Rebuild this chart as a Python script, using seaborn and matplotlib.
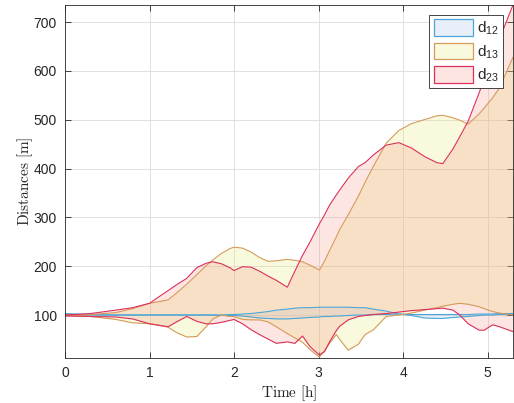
import numpy as np
import seaborn as sns
import matplotlib
matplotlib.use("Agg")
from matplotlib import pyplot as plt
from matplotlib.patches import Patch
from matplotlib.colors import to_rgba

# time [h]
t = [0.0, 0.3, 0.6, 0.8, 1.0, 1.1, 1.22, 1.32, 1.44, 1.56, 1.67, 1.75, 1.85, 1.95,
     2.0, 2.1, 2.2, 2.3, 2.4, 2.5, 2.63, 2.72, 2.81, 2.9, 3.01, 3.07, 3.13, 3.21,
     3.25, 3.35, 3.47, 3.55, 3.65, 3.8, 3.95, 4.1, 4.25, 4.4, 4.47, 4.59, 4.67,
     4.77, 4.9, 4.96, 5.06, 5.14, 5.3]

# distance bands [m]
d12_lo = [100, 100, 100, 100, 100, 100, 100, 100, 100, 100, 100, 100, 99, 99,
          99, 98, 96, 94, 93, 92, 92, 93, 94, 95, 96, 97, 97, 98,
          98, 99, 100, 100, 101, 101, 102, 99, 94, 93, 93, 95, 96,
          97, 99, 100, 100, 101, 101]
d12_hi = [103, 101, 100, 100, 100, 100, 100, 100, 100, 100, 100, 100, 100, 101,
          101, 102, 103, 105, 107, 110, 112, 114, 115, 115, 116, 116, 116, 116,
          116, 116, 115, 115, 112, 108, 102, 101, 101, 101, 101, 101, 101,
          101, 102, 102, 102, 103, 103]
d13_lo = [100, 97, 91, 84, 82, 80, 75, 64, 55, 56, 76, 92, 100, 97,
          97, 91, 90, 90, 86, 76, 62, 53, 44, 29, 14, 27, 42, 60,
          50, 28, 40, 60, 70, 97, 100, 104, 110, 115, 118, 122, 124,
          122, 117, 113, 107, 104, 100]
d13_hi = [100, 101, 105, 113, 124, 127, 131, 145, 163, 183, 201, 213, 226, 236,
          239, 237, 229, 218, 210, 211, 214, 212, 209, 202, 192, 210, 232, 260,
          275, 305, 343, 372, 405, 452, 478, 492, 500, 508, 509, 504, 499,
          491, 512, 524, 545, 565, 628]
d23_lo = [98, 97, 96, 92, 82, 79, 76, 86, 97, 87, 82, 82, 85, 89,
          91, 82, 70, 60, 51, 42, 45, 42, 57, 35, 18, 25, 45, 68,
          77, 90, 97, 99, 101, 103, 106, 109, 111, 113, 114, 110, 100,
          82, 69, 69, 80, 76, 66]
d23_hi = [100, 103, 110, 115, 124, 136, 150, 162, 175, 197, 206, 209, 205, 197,
          191, 199, 198, 190, 180, 171, 157, 190, 222, 250, 287, 305, 325, 346,
          356, 380, 404, 412, 428, 448, 453, 442, 425, 412, 410, 440, 465,
          497, 555, 585, 630, 665, 735]

labels = ["$\\mathregular{d_{12}}$", "$\\mathregular{d_{13}}$", "$\\mathregular{d_{23}}$"]
edge_colors = ["#4aa6d8", "#d69a5a", "#dc2f5c"]
face_colors = ["#b9cdf0", "#e8e878", "#f58070"]
face_alpha = [0.3, 0.25, 0.2]

sns.set_style("ticks")
plt.rcParams["font.family"] = ["Liberation Sans", "DejaVu Sans"]
plt.rcParams["mathtext.fontset"] = "cm"

fig = plt.figure(figsize=(5.14, 4.03), dpi=100)
ax = fig.add_axes([0.1265, 0.1117, 0.8715, 0.876])

bands = [(d12_lo, d12_hi), (d13_lo, d13_hi), (d23_lo, d23_hi)]
for (lo, hi), ec, fc, a in zip(bands, edge_colors, face_colors, face_alpha):
    ax.fill_between(t, lo, hi, color=fc, alpha=a, lw=0)
    sns.lineplot(x=t, y=lo, color=ec, lw=0.8, ax=ax)
    sns.lineplot(x=t, y=hi, color=ec, lw=0.8, ax=ax)

ax.set_xlim(0, 5.3)
ax.set_ylim(12, 735)
ax.set_xticks([0, 1, 2, 3, 4, 5])
ax.set_yticks([100, 200, 300, 400, 500, 600, 700])
ax.grid(True, color="#dcdcdc", lw=0.6)
ax.set_axisbelow(True)
ax.tick_params(direction="in", length=4, width=0.6, top=True, right=True,
               labelsize=10, colors="#262626", pad=6)
for s in ax.spines.values():
    s.set_color("#262626")
    s.set_linewidth(0.6)

ax.set_xlabel(r"$\mathrm{Time\ [h]}$", fontsize=11, color="#262626", labelpad=2)
ax.set_ylabel(r"$\mathrm{Distances\ [m]}$", fontsize=11, color="#262626", labelpad=-1)

# legend patches: translucent face, opaque edge
handles = [Patch(facecolor=to_rgba(fc, a), edgecolor=ec, lw=0.9)
           for ec, fc, a in zip(edge_colors, face_colors, face_alpha)]
leg = ax.legend(handles, labels, loc="upper right", fancybox=False, framealpha=1,
                edgecolor="#262626", fontsize=11, handlelength=2.6, handleheight=1.3,
                handletextpad=0.2, borderpad=0.3, labelspacing=0.35,
                borderaxespad=0.65)
leg.get_frame().set_linewidth(0.6)

fig.savefig("out.png", dpi=100)
